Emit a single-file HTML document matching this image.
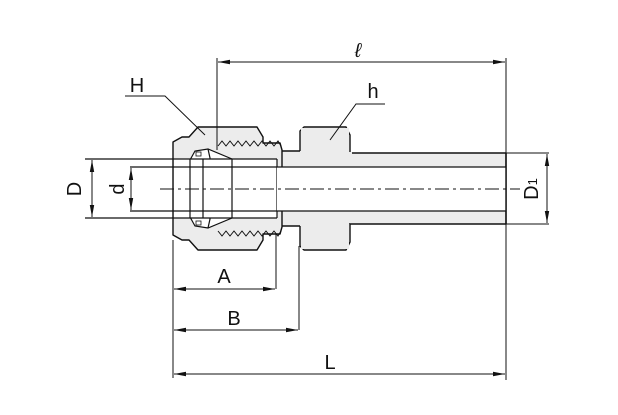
<!DOCTYPE html>
<html><head><style>
html,body{margin:0;padding:0;background:#fff;}
svg{display:block;}
text{font-family:"Liberation Sans",sans-serif;fill:#111;}
</style></head><body>
<svg width="618" height="415" viewBox="0 0 618 415" xmlns="http://www.w3.org/2000/svg">
<defs>
<marker id="a" viewBox="0 0 12 6" refX="12" refY="3" markerWidth="12" markerHeight="6" orient="auto-start-reverse" markerUnits="userSpaceOnUse">
<path d="M0,0.8 L12,3 L0,5.2 z" fill="#111"/></marker>
</defs>
<g fill="#ececec" stroke="#111" stroke-width="1.4" stroke-linejoin="round">
<!-- tube -->
<rect x="340" y="153" width="166" height="71"/>
<!-- body neck -->
<rect x="270" y="151" width="35" height="75" stroke="none"/>
<line x1="280" y1="151" x2="300" y2="151"/>
<line x1="280" y1="226" x2="300" y2="226"/>
<!-- hex -->
<path d="M300,151 L300,131 L304,127 L346,127 L350,135 L350,153 M350,224 L350,242 L346,250 L304,250 L300,246 L300,226"/>
<rect x="301" y="128" width="48" height="121" stroke="none"/>
<rect x="299" y="152" width="53" height="71" stroke="none"/>
<!-- nut -->
<path d="M173,142 L182,137 L189,137 L198,127 L257,127 L263,137 L263,143 L280,143 L282,150 L282,227 L280,234 L263,234 L263,240 L257,250 L198,250 L189,240 L182,240 L173,235 Z"/>
</g>
<!-- threads -->
<polyline fill="none" stroke="#111" stroke-width="1" points="218,146 222,141 226,146 230,141 234,146 238,141 242,146 246,141 250,146 254,141 258,146 262,141 266,146 270,141 274,146 278,141 281,146"/>
<polyline fill="none" stroke="#111" stroke-width="1" points="218,231 222,236 226,231 230,236 234,231 238,236 242,231 246,236 250,231 254,236 258,231 262,236 266,231 270,236 274,231 278,236 281,231"/>
<!-- ferrule / inner cavity -->
<path d="M190,160 L195,151 L208,149 L232,159 L232,218 L208,228 L195,226 L190,217 Z" fill="#fff" stroke="#111" stroke-width="1.2"/>
<path d="M208,149 L210,158 L210,219 L208,228" fill="none" stroke="#111" stroke-width="1.2"/>
<rect x="196" y="152" width="5" height="4" fill="#fff" stroke="#111" stroke-width="0.8"/>
<rect x="196" y="221" width="5" height="4" fill="#fff" stroke="#111" stroke-width="0.8"/>
<!-- tube inserted (D) -->
<rect x="174" y="159" width="103" height="59" fill="#fff" stroke="none"/>
<line x1="85" y1="159" x2="277" y2="159" stroke="#111" stroke-width="1.2"/>
<line x1="85" y1="218" x2="277" y2="218" stroke="#111" stroke-width="1.2"/>
<line x1="277" y1="159" x2="277" y2="218" stroke="#111" stroke-width="1.2"/>
<line x1="190" y1="159" x2="190" y2="218" stroke="#111" stroke-width="1.2"/>
<line x1="203" y1="159" x2="203" y2="218" stroke="#111" stroke-width="1.2"/>
<line x1="232" y1="159" x2="232" y2="218" stroke="#111" stroke-width="1.2"/>
<!-- bore -->
<rect x="277" y="167" width="229" height="44" fill="#fff" stroke="none"/>
<line x1="130" y1="167" x2="506" y2="167" stroke="#111" stroke-width="1.3"/>
<line x1="130" y1="211" x2="506" y2="211" stroke="#111" stroke-width="1.3"/>
<line x1="506" y1="153" x2="506" y2="224" stroke="#111" stroke-width="1.4"/>
<!-- centerline -->
<line x1="160" y1="189" x2="520" y2="189" stroke="#111" stroke-width="1" stroke-dasharray="14,4,3,4"/>
<!-- dims -->
<g stroke="#111" stroke-width="1" fill="none">
<line x1="92" y1="160" x2="92" y2="217" marker-start="url(#a)" marker-end="url(#a)"/>
<line x1="131" y1="168" x2="131" y2="210" marker-start="url(#a)" marker-end="url(#a)"/>
<line x1="506" y1="153" x2="549" y2="153"/>
<line x1="506" y1="224" x2="549" y2="224"/>
<line x1="547" y1="154" x2="547" y2="223" marker-start="url(#a)" marker-end="url(#a)"/>
<line x1="217" y1="58" x2="217" y2="150"/>
<line x1="506" y1="58" x2="506" y2="380"/>
<line x1="218" y1="62" x2="505" y2="62" marker-start="url(#a)" marker-end="url(#a)"/>
<line x1="173" y1="240" x2="173" y2="378"/>
<line x1="276" y1="234" x2="276" y2="289"/>
<line x1="299" y1="246" x2="299" y2="330"/>
<line x1="174" y1="289" x2="275" y2="289" marker-start="url(#a)" marker-end="url(#a)"/>
<line x1="174" y1="330" x2="298" y2="330" marker-start="url(#a)" marker-end="url(#a)"/>
<line x1="174" y1="374" x2="505" y2="374" marker-start="url(#a)" marker-end="url(#a)"/>
<polyline points="125,96 165,96 205,135"/>
<polyline points="385,104 356,104 330,140"/>
</g>
<text x="358" y="57" font-size="20" font-style="italic" text-anchor="middle" font-family="Liberation Serif, serif">ℓ</text>
<text x="137" y="92" font-size="20" text-anchor="middle">H</text>
<text x="373" y="98" font-size="20" text-anchor="middle">h</text>
<text x="224" y="283" font-size="20" text-anchor="middle">A</text>
<text x="234" y="325" font-size="20" text-anchor="middle">B</text>
<text x="330" y="369" font-size="20" text-anchor="middle">L</text>
<text transform="translate(81,189) rotate(-90)" font-size="20" text-anchor="middle">D</text>
<text transform="translate(124,189) rotate(-90)" font-size="20" text-anchor="middle">d</text>
<text transform="translate(538,189) rotate(-90)" font-size="20" text-anchor="middle">D<tspan font-size="13" dy="-1">1</tspan></text>
</svg>
</body></html>
